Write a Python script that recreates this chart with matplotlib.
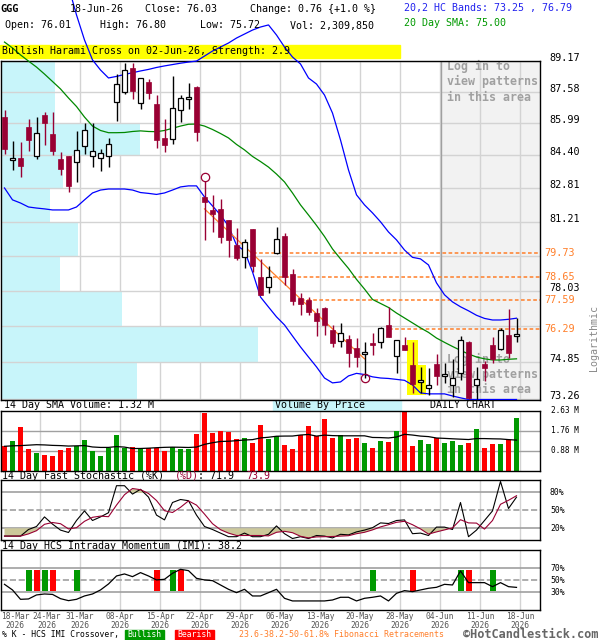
import matplotlib
matplotlib.use("Agg")
import matplotlib.pyplot as plt
import matplotlib.transforms as mtransforms
from matplotlib.patches import Rectangle
from matplotlib.ticker import NullLocator
import numpy as np
import pandas as pd

plt.rcParams['font.family'] = ['DejaVu Sans Mono']

W, H = 600, 640
CRIMSON = '#990033'
ORANGE = '#FF7F2A'
GRID = '#D3D3D3'


def fx(px):
    return px / W


def fy(py):
    return 1 - py / H


# ---- daily candles, 18-Mar-26 .. 18-Jun-26 ----
opens = [86.28, 84.19, 84.29, 85.78, 84.37, 86.42, 85.46, 84.21, 84.35, 84.08,
         84.84, 84.35, 84.29, 84.35, 87.06, 87.58, 88.78, 87.01, 88.06, 86.98,
         85.26, 85.21, 86.63, 87.23, 87.84, 82.40, 81.77, 81.80, 81.29, 80.11,
         79.58, 80.85, 78.67, 78.18, 79.74, 80.53, 78.79, 77.68, 77.59, 77.01,
         77.23, 76.26, 75.80, 75.86, 75.46, 75.21, 75.71, 75.75, 76.48, 75.13,
         75.61, 74.73, 74.00, 73.76, 74.78, 74.26, 73.88, 74.38, 75.73, 73.88,
         74.76, 75.61, 75.42, 76.05, 76.01]
highs = [86.66, 85.13, 85.05, 86.20, 86.32, 86.54, 86.54, 84.56, 84.36, 85.62,
         86.02, 86.02, 84.73, 85.26, 88.49, 89.05, 89.03, 88.30, 88.23, 87.41,
         86.20, 88.39, 87.41, 88.04, 87.86, 83.16, 82.49, 82.27, 81.30, 80.90,
         80.38, 80.87, 79.48, 79.17, 80.95, 80.69, 79.02, 77.90, 77.72, 77.23,
         77.30, 76.48, 76.59, 76.05, 75.90, 75.75, 76.15, 76.41, 77.30, 75.84,
         75.97, 75.75, 74.64, 74.60, 75.21, 74.83, 74.98, 76.00, 75.80, 74.66,
         74.90, 75.97, 76.34, 77.20, 76.80]
lows = [84.48, 83.68, 83.37, 84.64, 84.21, 84.89, 84.43, 83.45, 82.65, 83.12,
        84.45, 83.85, 83.64, 83.82, 86.10, 87.46, 87.19, 86.72, 87.19, 84.76,
        84.56, 84.97, 86.07, 86.72, 85.09, 80.36, 80.74, 80.22, 79.58, 79.43,
        79.05, 78.87, 77.85, 77.91, 79.71, 78.30, 77.37, 76.94, 76.94, 76.00,
        76.05, 75.53, 75.53, 74.66, 74.66, 74.16, 75.17, 75.46, 75.94, 74.40,
        75.39, 73.52, 73.52, 73.45, 73.88, 73.97, 73.35, 74.09, 73.26, 73.26,
        74.02, 74.81, 75.39, 75.03, 75.72]
closes = [84.73, 84.29, 83.87, 85.18, 85.50, 86.02, 84.64, 83.74, 82.92, 84.67,
          85.65, 84.64, 84.53, 84.97, 87.98, 88.69, 87.63, 88.27, 87.50, 85.18,
          84.89, 86.77, 87.24, 87.27, 85.53, 82.17, 81.58, 80.50, 80.34, 79.52,
          80.26, 79.14, 77.85, 78.67, 80.38, 78.64, 77.56, 77.41, 77.08, 76.67,
          76.48, 75.71, 76.15, 75.27, 75.07, 75.29, 75.61, 76.34, 75.97, 75.83,
          75.39, 73.92, 74.04, 73.80, 74.27, 74.35, 74.16, 75.83, 73.30, 74.12,
          74.59, 74.98, 76.26, 75.25, 76.03]
# volume in millions
volume = [1.07, 1.32, 1.93, 0.96, 0.79, 0.70, 0.66, 0.92, 1.01, 1.07,
          1.36, 0.86, 0.66, 0.98, 1.58, 1.01, 1.05, 0.99, 0.98, 0.98,
          0.88, 1.04, 0.94, 0.94, 1.62, 2.51, 1.67, 1.75, 1.71, 1.37,
          1.45, 1.23, 2.02, 1.40, 1.50, 1.14, 0.96, 1.56, 1.97, 1.50,
          2.28, 1.45, 1.58, 1.37, 1.45, 1.23, 1.01, 1.32, 1.27, 1.72,
          2.63, 1.10, 1.33, 1.18, 1.42, 1.23, 1.32, 1.14, 1.23, 1.81,
          1.01, 1.18, 1.18, 1.33, 2.31]
# 14 day volume SMA for the first 13 days (needs earlier data)
vol_sma_head = [1.07, 1.09, 1.10, 1.12, 1.14, 1.13, 1.11, 1.10, 1.08, 1.09, 1.10, 1.04, 1.02]

band_upper = [96.0, 95.9, 95.8, 95.6, 95.4, 95.1, 94.7, 94.0, 93.1, 91.57,
              90.25, 89.21, 88.69, 88.28, 88.36, 88.46, 88.55, 88.64, 88.72, 88.82,
              88.90, 88.97, 89.04, 89.10, 89.15, 89.41, 89.67, 89.88, 90.09, 90.35,
              90.56, 90.77, 90.93, 91.04, 90.51, 89.88, 89.36, 89.00, 88.28, 87.97,
              87.41, 86.50, 85.16, 83.69, 82.49, 82.01, 81.63, 81.21, 80.73, 80.36,
              79.89, 79.55, 79.48, 79.20, 78.38, 77.84, 77.52, 77.30, 77.12, 76.92,
              76.78, 76.71, 76.71, 76.74, 76.79]
band_lower = [82.82, 82.25, 82.10, 81.91, 81.86, 81.82, 81.77, 81.77, 81.77, 81.91,
              82.25, 82.58, 82.72, 82.77, 82.77, 82.77, 82.72, 82.60, 82.56, 82.51,
              82.58, 82.72, 82.87, 82.92, 82.92, 82.39, 81.96, 81.53, 81.01, 80.12,
              79.85, 78.88, 77.74, 77.29, 76.85, 76.49, 76.00, 75.52, 75.08, 74.65,
              74.17, 73.96, 74.00, 74.26, 74.37, 74.32, 74.22, 74.17, 74.15, 74.11,
              74.07, 73.87, 73.53, 73.49, 73.49, 73.49, 73.40, 73.32, 73.25, 73.25,
              73.25, 73.25, 73.25, 73.25, 73.25]
sma20 = [90.14, 89.83, 89.47, 89.15, 88.84, 88.48, 88.10, 87.72, 87.26, 86.83,
         86.30, 85.85, 85.63, 85.52, 85.52, 85.53, 85.58, 85.61, 85.58, 85.57,
         85.63, 85.74, 85.85, 85.94, 85.95, 85.85, 85.68, 85.48, 85.26, 84.94,
         84.67, 84.35, 84.10, 83.83, 83.49, 83.11, 82.58, 82.01, 81.53, 81.04,
         80.52, 79.94, 79.48, 79.04, 78.54, 78.10, 77.63, 77.45, 77.27, 77.02,
         76.80, 76.58, 76.36, 76.16, 75.91, 75.72, 75.54, 75.37, 75.21, 75.08,
         75.00, 74.95, 74.95, 74.98, 75.00]
stoch_k = [7, 7, 7, 18, 23, 39, 27, 17, 13, 33,
           49, 33, 39, 46, 91, 91, 77, 85, 72, 42,
           34, 63, 68, 66, 42, 23, 18, 12, 6, 6,
           12, 6, 6, 10, 24, 11, 3, 6, 3, 8,
           7, 4, 10, 9, 14, 17, 21, 29, 28, 33,
           34, 11, 12, 8, 22, 22, 18, 63, 6, 17,
           33, 49, 98, 53, 71.9]
imi = [43.3, 33.9, 18.3, 18.9, 25.6, 27.2, 26.5, 19.4, 16.1, 18.3,
       23.9, 27.2, 33.9, 43.9, 57.2, 60.6, 56.1, 62.8, 57.2, 50.6,
       51.7, 61.7, 68.3, 66.1, 53.3, 50.6, 49.4, 42.2, 35.0, 29.4,
       35.0, 23.9, 23.9, 29.4, 35.0, 20.0, 15.6, 15.6, 15.6, 15.6,
       15.6, 17.2, 21.7, 21.7, 15.6, 20.0, 21.7, 23.9, 15.6, 28.3,
       32.8, 31.1, 33.9, 36.7, 38.3, 43.3, 42.2, 65.6, 46.1, 46.1,
       46.1, 39.4, 46.1, 39.4, 38.2]
bull_cross = [3, 5, 9, 21, 46, 57, 61]
bear_cross = [4, 6, 19, 22, 51, 58]

date_idx = [0, 4, 9, 14, 19, 24, 29, 34, 39, 44, 49, 54, 59, 64]
date_labels = ["18-Mar", "24-Mar", "31-Mar", "08-Apr", "15-Apr", "22-Apr", "29-Apr",
               "06-May", "13-May", "20-May", "28-May", "04-Jun", "11-Jun", "18-Jun"]

price_ticks = [89.17, 87.58, 85.99, 84.40, 82.81, 81.21, 79.63, 78.03, 76.44, 74.85, 73.26]
price_shown = [True, True, True, True, True, True, False, True, False, True, True]
vbp_share = [0.21, 0.21, 0.54, 0.24, 0.19, 0.30, 0.23, 0.47, 1.00, 0.53]

fib_levels = [79.73, 78.65, 77.59, 76.29]
fib_start = [31, 33.5, 37, 48]
fib_line_idx = [25, 45]
fib_line_val = [81.82, 75.00]
harami_idx = [51, 52]
login_start = 54.5

vol_ticks = [2.63, 1.76, 0.88]
stoch_lines = [80, 50, 20]
imi_lines = [70, 50, 30]

# ---- layout ----
n = len(closes)
x = np.arange(n)
L, R = 1, 540
xlim = (-(4.5 - L) / 8, (R - 4.5) / 8)
grid_x = [i + 0.4375 for i in date_idx[1:]]

fig = plt.figure(figsize=(6, 6.4), dpi=100)


def panel(top, bottom):
    a = fig.add_axes([fx(L), fy(bottom), (R - L) / W, (bottom - top) / H])
    a.set_xlim(*xlim)
    for s in a.spines.values():
        s.set_color('black')
        s.set_linewidth(1)
    for gx in grid_x:
        a.axvline(gx, color=GRID, lw=1, zorder=0.8)
    return a


ax = panel(60.5, 399.5)
axv = panel(410.7, 470.7)
axs = panel(480.3, 540.3)
axi = panel(550.3, 610.3)

# ---- main price panel ----
ax.set_yscale('log')
ax.set_ylim(73.25, 89.18)
ax.yaxis.set_major_locator(NullLocator())
ax.yaxis.set_minor_locator(NullLocator())
ax.set_xticks([])

ax.axvspan(login_start, xlim[1], color='#F2F2F2', zorder=0.5, lw=0)
ax.axvline(login_start, color='#A0A0A0', lw=1, zorder=1.3)
for v in price_ticks:
    ax.axhline(v, color=GRID, lw=1, zorder=1.2)

# volume by price, one row between each pair of price ticks
vbp_max = 32.1
row_low = np.array(price_ticks[1:])
row_h = -np.diff(price_ticks)
ax.barh(row_low, np.array(vbp_share) * vbp_max, height=row_h, left=xlim[0],
        align='edge', color='#C8F5FA', lw=0, zorder=1)

o, h, l, c = map(np.array, (opens, highs, lows, closes))
up = c >= o

# harami highlight
for i in harami_idx:
    ax.bar(i, h[i] * 1.001 - l[i] * 0.999, bottom=l[i] * 0.999, width=1.45,
           color='#FFFF00', lw=0, zorder=2)

ax.plot(x, band_upper, color='#0000FF', lw=0.9, zorder=3, clip_on=False)
ax.plot(x, band_lower, color='#0000FF', lw=0.9, zorder=3)
ax.plot(x, sma20, color='#008800', lw=0.9, zorder=3, clip_on=False)

for lvl, st in zip(fib_levels, fib_start):
    ax.hlines(lvl, st, xlim[1], colors=ORANGE, linestyles=(0, (2.4, 1.6)), lw=1.1, zorder=2.5)
ax.plot(fib_line_idx, fib_line_val, color=ORANGE, lw=0.9, zorder=3)

body_lo = np.minimum(o, c)
body_h = np.maximum(np.abs(c - o), body_lo * 0.0012)
ax.vlines(x[up], l[up], h[up], colors='black', lw=1.0, zorder=4)
ax.vlines(x[~up], l[~up], h[~up], colors=CRIMSON, lw=1.0, zorder=4)
ax.bar(x[up], body_h[up], bottom=body_lo[up], width=0.7, facecolor='white',
       edgecolor='black', lw=0.9, zorder=5)
ax.bar(x[~up], body_h[~up], bottom=body_lo[~up], width=0.7, color=CRIMSON,
       edgecolor=CRIMSON, lw=0.5, zorder=5)

ax.plot([fib_line_idx[0]], [h[fib_line_idx[0]] * 1.0025], marker='o', mfc='none',
        mec=CRIMSON, ms=6, mew=0.9, zorder=6, clip_on=False)
ax.plot([fib_line_idx[1]], [l[fib_line_idx[1]]], marker='o', mfc='none',
        mec=CRIMSON, ms=6, mew=0.9, zorder=6)

tr = mtransforms.blended_transform_factory(ax.transAxes, ax.transData)
for v, shown in zip(price_ticks, price_shown):
    if shown:
        ax.text(1 + 9 / 539, v, f"{v:.2f}", transform=tr, ha='left', va='baseline',
                fontsize=7.3, clip_on=False)
for lvl in fib_levels:
    ax.text(1 + 4 / 539, lvl, f"{lvl:.2f}", transform=tr, ha='left', va='center',
            fontsize=7.3, color=ORANGE, clip_on=False)

login_lines = ["Log in to", "view patterns", "in this area"]
for y0 in (66.7, 359.3):
    for k, txt in enumerate(login_lines):
        ax.text(fx(447), fy(y0 + 15.2 * k), txt, transform=fig.transFigure, va='center',
                ha='left', fontsize=8.4, fontweight='bold', color='#A0A0A0', zorder=1.5)

# ---- volume panel ----
vol = np.array(volume)
vol_sma = pd.Series(vol).rolling(14).mean().to_numpy()
vol_sma[:len(vol_sma_head)] = vol_sma_head
axv.set_ylim(0, 2.63)
axv.set_xticks([])
axv.set_yticks([])
for v in vol_ticks[1:]:
    axv.axhline(v, color='#A0A0A0', lw=1, zorder=1)
axv.bar(x, vol, width=0.72, color=np.where(up, '#009900', '#FF0000'), lw=0, zorder=2)
axv.plot(x, vol_sma, color='black', lw=0.9, zorder=3)
for v in vol_ticks:
    axv.text(1 + 11 / 539, v, f"{v:.2f} M", transform=axv.get_yaxis_transform(),
             ha='left', va='center', fontsize=5.6, clip_on=False)

# ---- stochastic panel ----
K = np.array(stoch_k, dtype=float)
D = pd.Series(K).rolling(3, min_periods=1).mean().to_numpy()
axs.set_ylim(0, 100)
axs.set_xticks([])
axs.set_yticks([])
for v in stoch_lines:
    axs.axhline(v, color='#A0A0A0', lw=1.2, ls='--' if v == 50 else '-', zorder=1)
axs.fill_between(x, D, 20, where=D < 20, interpolate=True, color='#CCC89A', lw=0, zorder=1.5)
axs.fill_between(x, D, 80, where=D > 80, interpolate=True, color='#CCC89A', lw=0, zorder=1.5)
axs.plot(x, K, color='black', lw=0.8, zorder=3)
axs.plot(x, D, color=CRIMSON, lw=0.8, zorder=3)
for v in stoch_lines:
    axs.text(1 + 10 / 539, v, f"{v}%", transform=axs.get_yaxis_transform(),
             ha='left', va='center', fontsize=5.9, clip_on=False)

# ---- IMI panel ----
axi.set_ylim(0, 100)
axi.set_yticks([])
for v in imi_lines:
    axi.axhline(v, color='#A0A0A0', lw=1.2, ls='--' if v == 50 else '-', zorder=1)
axi.bar(bull_cross, 35, bottom=32, width=0.75, color='#009900', lw=0, zorder=2)
axi.bar(bear_cross, 35, bottom=32, width=0.75, color='#FF0000', lw=0, zorder=2)
axi.plot(x, imi, color='black', lw=0.9, zorder=3)
for v in imi_lines:
    axi.text(1 + 10 / 539, v, f"{v}%", transform=axi.get_yaxis_transform(),
             ha='left', va='center', fontsize=5.9, clip_on=False)

# date labels sit on the weekly grid; the first two are pushed right so they fit
label_x = list(grid_x)
label_x.insert(0, (15 - 4.5) / 8)
label_x[1] = (47 - 4.5) / 8
axi.set_xticks(label_x)
axi.set_xticklabels([f"{d}\n2026" for d in date_labels], fontsize=5.7, color='#555555',
                    linespacing=0.9)
axi.tick_params(axis='x', length=0, pad=1.5)

# ---- header and labels ----
def ftxt(px, py, s, **kw):
    kw.setdefault('fontsize', 7.2)
    kw.setdefault('va', 'center')
    fig.text(fx(px), fy(py), s, **kw)


ftxt(0, 9.5, "GGG", fontweight='bold', fontsize=7.4)
ftxt(70, 9.5, "18-Jun-26")
ftxt(145, 9.5, "Close: 76.03")
ftxt(250, 9.5, "Change: 0.76 {+1.0 %}")
ftxt(404, 7.5, "20,2 HC Bands: 73.25 , 76.79", color='#2222EE')
ftxt(4.6, 25.5, "Open: 76.01")
ftxt(100, 25.5, "High: 76.80")
ftxt(200, 25.5, "Low: 75.72")
ftxt(290, 25.5, "Vol: 2,309,850")
ftxt(404, 23.5, "20 Day SMA: 75.00", color='#009900')

fig.patches.append(Rectangle((0, fy(57.5)), fx(400), 12 / H, transform=fig.transFigure,
                             color='#FFFF00', zorder=-1))
ftxt(2, 51.5, "Bullish Harami Cross on 02-Jun-26, Strength: 2.9")

ftxt(4, 405.5, "14 Day SMA Volume: 1.32 M")
fig.patches.append(Rectangle((fx(273), fy(410.5)), fx(128), 10.5 / H, transform=fig.transFigure,
                             color='#C8F5FA', zorder=-1))
ftxt(275, 405.5, "Volume By Price")
ftxt(430, 405.5, "DAILY CHART")

ftxt(2, 476, "14 Day Fast Stochastic (%K)")
ftxt(175, 476, "(%D)", color=CRIMSON)
ftxt(198.5, 476, ": 71.9")
ftxt(246.5, 476, "73.9", color=CRIMSON)
ftxt(2, 546, "14 Day HCS Intraday Momentum (IMI): 38.2")

ftxt(594, 338, "Logarithmic", rotation=90, ha='center', color='#888888')

ftxt(2, 634.5, "% K - HCS IMI Crossover,", fontsize=5.9)
fig.patches.append(Rectangle((fx(125), fy(639.5)), fx(39), 9.5 / H, transform=fig.transFigure,
                             color='#009900', zorder=-1))
ftxt(144.5, 634.5, "Bullish", fontsize=5.9, color='white', ha='center')
fig.patches.append(Rectangle((fx(175), fy(639.5)), fx(38.5), 9.5 / H, transform=fig.transFigure,
                             color='#FF0000', zorder=-1))
ftxt(194.2, 634.5, "Bearish", fontsize=5.9, color='white', ha='center')
ftxt(239, 634.5, "23.6-38.2-50-61.8% Fibonacci Retracements", fontsize=5.95, color=ORANGE)
ftxt(463, 634.5, "\u00a9HotCandlestick.com", fontsize=8.6, fontweight='bold', color='#666666')

fig.savefig("out.png", dpi=100)
